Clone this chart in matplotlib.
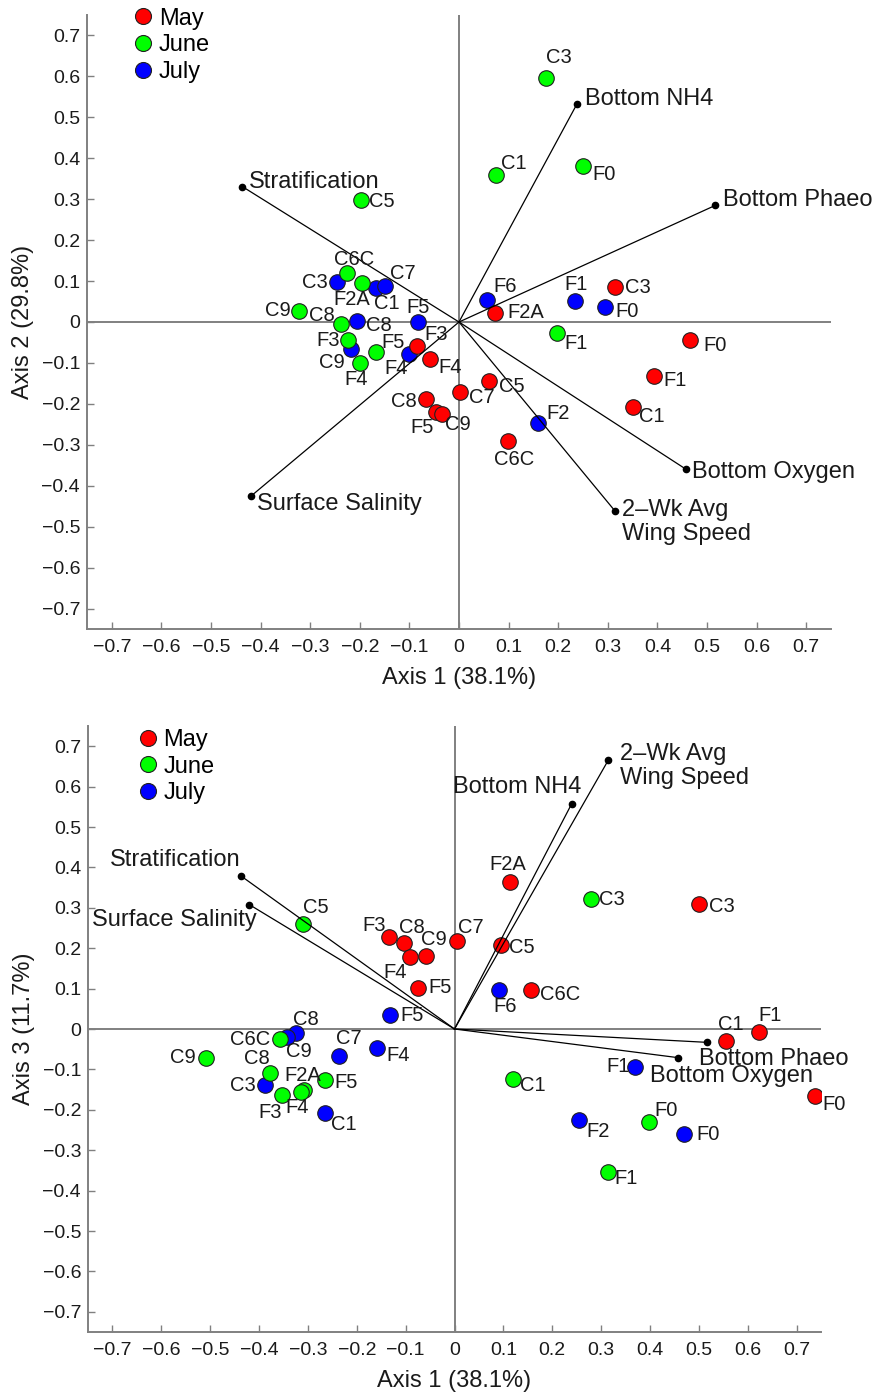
import matplotlib
matplotlib.use("Agg")
import matplotlib.pyplot as plt
from matplotlib.lines import Line2D

plt.rcParams['font.family'] = ['Liberation Sans', 'DejaVu Sans']

# ---------------- Data: panel 1 (Axis 1 vs Axis 2) ----------------
may_sites_12 = ["F3", "F4", "C7", "C8", "F5", "C9", "F2A", "C3", "F0", "F1", "C1", "C5", "C6C"]
may_ax1_12 = [-0.084, -0.059, 0.003, -0.066, -0.047, -0.035, 0.072, 0.315, 0.465, 0.393, 0.351, 0.060, 0.099]
may_ax2_12 = [-0.058, -0.091, -0.172, -0.189, -0.219, -0.224, 0.023, 0.085, -0.044, -0.133, -0.208, -0.145, -0.290]

june_sites_12 = ["C6C", "F2A", "C9", "C8", "F3", "F5", "F4", "F1", "C3", "C1", "F0", "C5"]
june_ax1_12 = [-0.225, -0.196, -0.323, -0.238, -0.223, -0.167, -0.199, 0.197, 0.176, 0.075, 0.251, -0.197]
june_ax2_12 = [0.119, 0.095, 0.028, -0.005, -0.045, -0.073, -0.101, -0.028, 0.597, 0.360, 0.382, 0.299]

july_sites_12 = ["C3", "C1", "C7", "C8", "F5", "C9", "F4", "F6", "F1", "F0", "F2"]
july_ax1_12 = [-0.246, -0.168, -0.150, -0.206, -0.082, -0.217, -0.101, 0.057, 0.233, 0.295, 0.160]
july_ax2_12 = [0.097, 0.083, 0.087, 0.003, -0.001, -0.067, -0.077, 0.054, 0.051, 0.036, -0.246]

vec_names_12 = ["Stratification", "Bottom NH4", "Bottom Phaeo", "Bottom Oxygen",
                "2\u2013Wk Avg\nWing Speed", "Surface Salinity"]
vec_ax1_12 = [-0.437, 0.238, 0.517, 0.458, 0.314, -0.420]
vec_ax2_12 = [0.331, 0.533, 0.285, -0.360, -0.461, -0.426]

# ---------------- Data: panel 2 (Axis 1 vs Axis 3) ----------------
may_sites_13 = ["F2A", "C3", "C7", "C5", "C6C", "C1", "F1", "F0", "F3", "C8", "C9", "F4", "F5"]
may_ax1_13 = [0.114, 0.500, 0.006, 0.095, 0.156, 0.556, 0.623, 0.737, -0.134, -0.104, -0.058, -0.092, -0.075]
may_ax3_13 = [0.364, 0.309, 0.217, 0.207, 0.097, -0.030, -0.008, -0.165, 0.227, 0.212, 0.181, 0.177, 0.102]

june_sites_13 = ["C3", "C1", "F0", "F1", "C5", "C6C", "C9", "C8", "F5", "F2A", "F4", "F3"]
june_ax1_13 = [0.280, 0.120, 0.398, 0.315, -0.310, -0.358, -0.509, -0.377, -0.265, -0.309, -0.315, -0.352]
june_ax3_13 = [0.323, -0.123, -0.229, -0.353, 0.261, -0.025, -0.071, -0.109, -0.125, -0.150, -0.156, -0.164]

july_sites_13 = ["F6", "F1", "F2", "F0", "F5", "C8", "C9", "C7", "F4", "C3", "C1"]
july_ax1_13 = [0.091, 0.370, 0.255, 0.470, -0.131, -0.325, -0.343, -0.236, -0.159, -0.388, -0.264]
july_ax3_13 = [0.097, -0.094, -0.225, -0.261, 0.034, -0.009, -0.021, -0.067, -0.048, -0.139, -0.209]

vec_names_13 = ["Stratification", "Surface Salinity", "Bottom NH4", "2\u2013Wk Avg\nWing Speed",
                "Bottom Phaeo", "Bottom Oxygen"]
vec_ax1_13 = [-0.436, -0.420, 0.240, 0.315, 0.516, 0.458]
vec_ax3_13 = [0.378, 0.308, 0.558, 0.666, -0.033, -0.071]

months = ["May", "June", "July"]
month_colors = ["#ff0000", "#00ff00", "#0000ff"]
tick_vals = [-0.7, -0.6, -0.5, -0.4, -0.3, -0.2, -0.1, 0, 0.1, 0.2, 0.3, 0.4, 0.5, 0.6, 0.7]
tick_labels = ["\u22120.7", "\u22120.6", "\u22120.5", "\u22120.4", "\u22120.3", "\u22120.2", "\u22120.1", "0",
               "0.1", "0.2", "0.3", "0.4", "0.5", "0.6", "0.7"]

# ---------------- Layout (label offsets in pixels) ----------------
off_may_12 = [(19, 11), (20, -8), (21, -5), (-22, -2), (-14, -16), (16, -11), (31, 0), (23, 0),
              (25, -5), (21, -4), (19, -9), (23, -5), (6, -19)]
off_june_12 = [(7, 14), (-10, -16), (-21, 0), (-19, 9), (-20, 0), (17, 9), (-4, -16), (19, -10),
               (13, 20), (18, 11), (21, -9), (21, -2)]
off_july_12 = [(-22, 0), (11, -15), (18, 13), (22, -5), (0, 15), (-19, -13), (-13, -15), (18, 13),
               (1, 17), (22, -4), (20, 9)]
vec_off_12 = [(7, 5, 'left'), (8, 5, 'left'), (8, 5, 'left'), (6, -3, 'left'), (7, -11, 'left'),
              (6, -8, 'left')]

off_may_13 = [(-2, 17), (23, -2), (13, 14), (21, -2), (29, -5), (5, 17), (11, 17), (19, -9),
              (-15, 12), (8, 16), (8, 16), (-14, -15), (22, 0)]
off_june_13 = [(21, -1), (20, -7), (17, 11), (18, -7), (13, 16), (-29, 0), (-23, 0), (-13, 15),
               (21, -3), (-1, 14), (-3, -15), (-12, -17)]
off_july_13 = [(6, -17), (-17, 0), (19, -12), (24, 0), (22, 0), (10, 13), (12, -14), (10, 18),
               (21, -7), (-22, 0), (18, -11)]
vec_off_13 = [(-1, 16, 'right'), (7, -15, 'right'), (10, 17, 'right'), (12, -6, 'left'),
              (-8, -17, 'left'), (-28, -18, 'left')]

W, H = 875, 1395
fig = plt.figure(figsize=(W / 100, H / 100), dpi=100)
ax1 = fig.add_axes([87 / W, 1 - 629 / H, (831 - 87) / W, (629 - 15) / H])
ax2 = fig.add_axes([88 / W, 1 - 1332 / H, (821 - 88) / W, (1332 - 726) / H])

GRAY = "#808080"
PT_FS = 14.5
VEC_FS = 17
TICK_FS = 14
LAB_FS = 17


def panel(ax, groups, vecs, ylabel, leg_anchor):
    ax.set_xlim(-0.75, 0.75)
    ax.set_ylim(-0.75, 0.75)
    ax.axhline(0, color=GRAY, lw=1.4, zorder=1)
    ax.axvline(0, color=GRAY, lw=1.4, zorder=1)
    handles = []
    for (sites, xs, ys, offs, color, label) in groups[::-1]:
        ax.scatter(xs, ys, s=125, c=color, edgecolors="#202020", linewidths=0.8, zorder=3)
        for name, x, y, (dx, dy) in zip(sites, xs, ys, offs):
            ax.annotate(name, (x, y), xytext=(dx, dy), textcoords="offset pixels",
                        ha="center", va="center", fontsize=PT_FS, color="#1a1a1a", zorder=5)
    for color, label in zip(month_colors, months):
        handles.append(Line2D([], [], ls="none", marker="o", markersize=11.5, markerfacecolor=color,
                              markeredgecolor="#202020", markeredgewidth=0.8, label=label))
    names, vx, vy, voffs = vecs
    for name, x, y, (dx, dy, ha) in zip(names, vx, vy, voffs):
        ax.plot([0, x], [0, y], color="black", lw=0.9, zorder=4)
        ax.plot([x], [y], marker="o", color="black", markersize=4.5, zorder=4)
        ax.annotate(name, (x, y), xytext=(dx, dy), textcoords="offset pixels", ha=ha,
                    va="center", fontsize=VEC_FS, color="#1a1a1a", linespacing=1.12, zorder=5)
    for sp in ["top", "right"]:
        ax.spines[sp].set_visible(False)
    for sp in ["left", "bottom"]:
        ax.spines[sp].set_color(GRAY)
        ax.spines[sp].set_linewidth(1.4)
    ax.set_xticks(tick_vals)
    ax.set_xticklabels(tick_labels)
    ax.set_yticks(tick_vals)
    ax.set_yticklabels(tick_labels)
    ax.tick_params(direction="in", length=5, width=1, color=GRAY, labelsize=TICK_FS,
                   labelcolor="#1a1a1a")
    ax.tick_params(axis="x", pad=7)
    ax.tick_params(axis="y", pad=5)
    ax.set_xlabel("Axis 1 (38.1%)", fontsize=LAB_FS, color="#1a1a1a", labelpad=8)
    ax.set_ylabel(ylabel, fontsize=LAB_FS, color="#1a1a1a", labelpad=5)
    ax.legend(handles=handles, loc="upper left", bbox_to_anchor=leg_anchor, frameon=False,
              fontsize=LAB_FS, handlelength=0.8, handletextpad=0.25, labelspacing=0.2,
              borderpad=0, borderaxespad=0)
    ax.patch.set_alpha(0)


panel(ax1,
      [(may_sites_12, may_ax1_12, may_ax2_12, off_may_12, month_colors[0], months[0]),
       (june_sites_12, june_ax1_12, june_ax2_12, off_june_12, month_colors[1], months[1]),
       (july_sites_12, july_ax1_12, july_ax2_12, off_july_12, month_colors[2], months[2])],
      (vec_names_12, vec_ax1_12, vec_ax2_12, vec_off_12),
      "Axis 2 (29.8%)", (0.063, 1.012))

panel(ax2,
      [(may_sites_13, may_ax1_13, may_ax3_13, off_may_13, month_colors[0], months[0]),
       (june_sites_13, june_ax1_13, june_ax3_13, off_june_13, month_colors[1], months[1]),
       (july_sites_13, july_ax1_13, july_ax3_13, off_july_13, month_colors[2], months[2])],
      (vec_names_13, vec_ax1_13, vec_ax3_13, vec_off_13),
      "Axis 3 (11.7%)", (0.069, 0.995))

fig.savefig("out.png", dpi=100, facecolor="white")
